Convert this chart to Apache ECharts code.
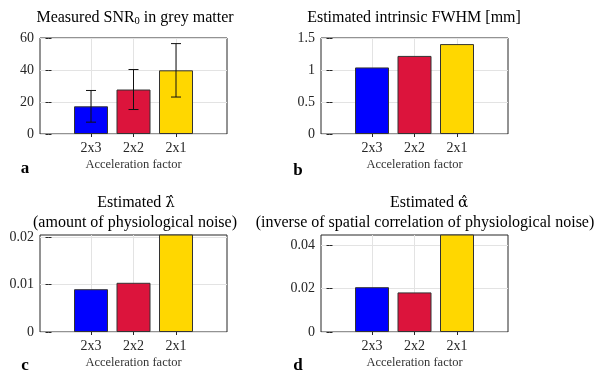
<!DOCTYPE html>
<html>
<head>
<meta charset="utf-8">
<script src="https://cdn.jsdelivr.net/npm/echarts@6/dist/echarts.min.js"></script>
<style>
  html, body { margin: 0; padding: 0; background: #fff; }
  #chart { width: 600px; height: 383px; }
</style>
</head>
<body>
<div id="chart"></div>
<script>
// data
var categories = ["2x3", "2x2", "2x1"];
var xPos = [1, 2, 3];
var barColors = ["#0000ff", "#dc143c", "#ffd700"];

var snrMean = [17.3, 27.8, 39.8];
var snrSd = [9.9, 12.5, 16.7];
var fwhm = [1.04, 1.22, 1.405];
var lambdaHat = [0.009, 0.01035, 0.0205];
var alphaHat = [0.0206, 0.0182, 0.045];

var snrTicks = [0, 20, 40, 60];
var fwhmTicks = [0, 0.5, 1, 1.5];
var lambdaTicks = [0, 0.01, 0.02];
var alphaTicks = [0, 0.02, 0.04];

var FONT = "Liberation Serif";
var INK = "#262626";

var chartDom = document.getElementById("chart");
var myChart = echarts.init(chartDom);

// one box per panel: left, top, width, height, y range
var panels = [
  { left: 40, top: 38, width: 187, height: 96, yMax: 60, ticks: snrTicks, values: snrMean },
  { left: 321, top: 38, width: 187, height: 96, yMax: 1.5, ticks: fwhmTicks, values: fwhm },
  { left: 40, top: 235, width: 187, height: 97, yMax: 0.0204, ticks: lambdaTicks, values: lambdaHat },
  { left: 321, top: 235, width: 187, height: 97, yMax: 0.0446, ticks: alphaTicks, values: alphaHat },
];

var grid = [], xAxis = [], yAxis = [], series = [];

panels.forEach(function (p, i) {
  grid.push({
    left: p.left, top: p.top, width: p.width, height: p.height,
    show: true, borderColor: INK, borderWidth: 1, backgroundColor: "#fff",
  });
  // bottom x axis with category labels
  xAxis.push({
    type: "value", gridIndex: i, min: -0.2, max: 4.2,
    axisLine: { show: false },
    axisTick: { show: true, inside: true, length: 3, customValues: xPos, lineStyle: { color: INK } },
    axisLabel: {
      customValues: xPos, margin: 7, color: INK, fontFamily: FONT, fontSize: 14,
      formatter: function (v) { return categories[xPos.indexOf(v)] || ""; },
    },
    splitLine: { show: true, lineStyle: { color: "#e3e3e3" } },
    name: "Acceleration factor", nameLocation: "middle", nameGap: 24,
    nameTextStyle: { color: "#333", fontFamily: FONT, fontSize: 12.5 },
  });
  // top x axis, ticks only
  xAxis.push({
    type: "value", gridIndex: i, position: "top", min: -0.2, max: 4.2,
    axisLine: { show: false },
    axisTick: { show: true, inside: true, length: 3, customValues: xPos, lineStyle: { color: INK } },
    axisLabel: { show: false }, splitLine: { show: false },
  });
  yAxis.push({
    type: "value", gridIndex: i, min: 0, max: p.yMax,
    axisLine: { show: false },
    axisTick: { show: true, inside: true, length: 3, customValues: p.ticks, lineStyle: { color: INK } },
    axisLabel: { customValues: p.ticks, margin: 6, color: INK, fontFamily: FONT, fontSize: 14 },
    splitLine: { show: true, lineStyle: { color: "#e3e3e3" } },
  });
  yAxis.push({
    type: "value", gridIndex: i, position: "right", min: 0, max: p.yMax,
    axisLine: { show: false },
    axisTick: { show: true, inside: true, length: 3, customValues: p.ticks, lineStyle: { color: INK } },
    axisLabel: { show: false }, splitLine: { show: false },
  });

  series.push({
    type: "bar",
    xAxisIndex: i * 2,
    yAxisIndex: i * 2,
    barWidth: 34,
    clip: true,
    data: p.values.map(function (v, k) {
      return { value: [xPos[k], v], itemStyle: { color: barColors[k] } };
    }),
    itemStyle: { borderColor: "#333", borderWidth: 1 },
    emphasis: { disabled: true },
    z: 3,
  });
});

// error bars on SNR panel
series.push({
  type: "custom",
  xAxisIndex: 0,
  yAxisIndex: 0,
  z: 5,
  data: snrMean.map(function (m, k) { return [xPos[k], m - snrSd[k], m + snrSd[k]]; }),
  renderItem: function (params, api) {
    var lo = api.coord([api.value(0), api.value(1)]);
    var hi = api.coord([api.value(0), api.value(2)]);
    var st = { stroke: "#111", lineWidth: 1 };
    var hw = 5;
    return {
      type: "group",
      children: [
        { type: "line", shape: { x1: lo[0], y1: lo[1], x2: hi[0], y2: hi[1] }, style: st },
        { type: "line", shape: { x1: lo[0] - hw, y1: lo[1], x2: lo[0] + hw, y2: lo[1] }, style: st },
        { type: "line", shape: { x1: hi[0] - hw, y1: hi[1], x2: hi[0] + hw, y2: hi[1] }, style: st },
      ],
    };
  },
});

function txt(x, y, text, size, weight) {
  return {
    type: "text", x: x, y: y, z: 10,
    style: {
      text: text, fill: "#000", align: "center", verticalAlign: "middle",
      font: (weight || "normal") + " " + size + "px '" + FONT + "'",
    },
  };
}

function richTxt(x, y, text) {
  return {
    type: "text", x: x, y: y, z: 10,
    style: {
      text: text, align: "center", verticalAlign: "middle",
      rich: {
        t: { fontFamily: FONT, fontSize: 16, color: "#000" },
        s: { fontFamily: FONT, fontSize: 10.5, color: "#000", padding: [7, 0, 0, 0] },
        g: { fontFamily: "DejaVu Serif", fontSize: 15, color: "#000" },
      },
    },
  };
}

var option = {
  animation: false,
  grid: grid,
  xAxis: xAxis,
  yAxis: yAxis,
  series: series,
  graphic: [
    richTxt(135, 18, "{t|Measured SNR}{s|0}{t| in grey matter}"),
    txt(414, 18, "Estimated intrinsic FWHM [mm]", 16),
    richTxt(136, 203, "{t|Estimated }{g|\u03bb\u0302}"),
    txt(135, 223, "(amount of physiological noise)", 16),
    richTxt(429, 203, "{t|Estimated }{g|\u03b1\u0302}"),
    txt(425, 223, "(inverse of spatial correlation of physiological noise)", 16),
    txt(25, 169, "a", 17, "bold"),
    txt(298, 171, "b", 17, "bold"),
    txt(25, 366, "c", 17, "bold"),
    txt(298, 366, "d", 17, "bold"),
  ],
};

option && myChart.setOption(option);
</script>
</body>
</html>
